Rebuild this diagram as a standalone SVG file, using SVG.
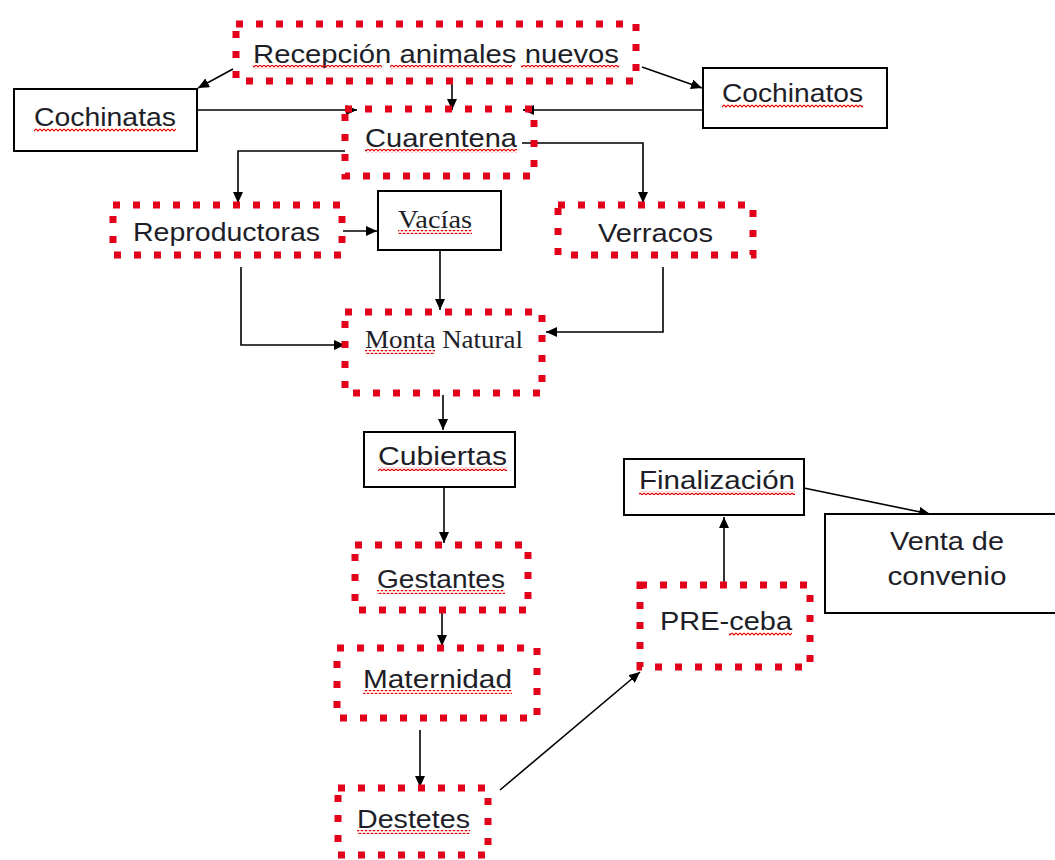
<svg xmlns="http://www.w3.org/2000/svg" width="1055" height="860" viewBox="0 0 1055 860">
<style>
.dot{fill:none;stroke:#e3001b;stroke-width:7;stroke-dasharray:7 13}
.box{fill:#fff;stroke:#000;stroke-width:2}
.t{font-family:"Liberation Sans",Arial,sans-serif;font-size:25px;fill:#1e1e28}
.s{font-family:"Liberation Serif","Times New Roman",serif;font-size:26px;fill:#1e1e28}
.c{fill:none;stroke:#000;stroke-width:1.6}
.w{fill:url(#wavy)}
</style>
<defs>
<marker id="ah" markerUnits="userSpaceOnUse" markerWidth="12" markerHeight="10" refX="11" refY="5" orient="auto">
<path d="M0,0 L11,5 L0,10 Z" fill="#000"/>
</marker>
<pattern id="wavy" patternUnits="userSpaceOnUse" width="4" height="4">
<path d="M0,1 L2,3 L4,1" fill="none" stroke="#e00000" stroke-width="1.1"/>
</pattern>
</defs>
<rect width="1055" height="860" fill="#fff"/>

<g id="connectors">
<path class="c" marker-end="url(#ah)" d="M233,69 L198,88"/>
<path class="c" marker-end="url(#ah)" d="M642,67 L702,88"/>
<path class="c" marker-end="url(#ah)" d="M452,82 L452,110"/>
<path class="c" marker-end="url(#ah)" d="M198,110 L357,110"/>
<path class="c" marker-end="url(#ah)" d="M703,110 L523,110"/>
<path class="c" marker-end="url(#ah)" d="M345,151 L238,151 L238,203"/>
<path class="c" marker-end="url(#ah)" d="M522,143 L643,143 L643,203"/>
<path class="c" marker-end="url(#ah)" d="M343,231 L377,231"/>
<path class="c" marker-end="url(#ah)" d="M440,250 L440,310"/>
<path class="c" marker-end="url(#ah)" d="M241,267 L241,345 L345,345"/>
<path class="c" marker-end="url(#ah)" d="M663,267 L663,332 L546,332"/>
<path class="c" marker-end="url(#ah)" d="M443,395 L443,430"/>
<path class="c" marker-end="url(#ah)" d="M444,488 L444,543"/>
<path class="c" marker-end="url(#ah)" d="M442,612 L442,646"/>
<path class="c" marker-end="url(#ah)" d="M420,730 L420,787"/>
<path class="c" marker-end="url(#ah)" d="M500,790 L640,672"/>
<path class="c" marker-end="url(#ah)" d="M724,585 L724,517"/>
<path class="c" marker-end="url(#ah)" d="M799,487 L930,514"/>
</g>

<g id="recepcion">
<rect class="dot" x="236" y="24" width="400" height="57"/>
<text class="t" x="253" y="63" textLength="366" lengthAdjust="spacingAndGlyphs">Recepción animales nuevos</text>
<rect class="w" x="253" y="65" width="129" height="4"/>
<rect class="w" x="390" y="65" width="122" height="4"/>
<rect class="w" x="521" y="65" width="98" height="4"/>
</g>

<g id="cochinatas">
<rect class="box" x="14" y="89" width="183" height="62"/>
<text class="t" x="34" y="126" textLength="142" lengthAdjust="spacingAndGlyphs">Cochinatas</text>
<rect class="w" x="34" y="128" width="142" height="4"/>
</g>

<g id="cochinatos">
<rect class="box" x="703" y="68" width="184" height="60"/>
<text class="t" x="722" y="102" textLength="141" lengthAdjust="spacingAndGlyphs">Cochinatos</text>
<rect class="w" x="722" y="104" width="141" height="4"/>
</g>

<g id="cuarentena">
<rect class="dot" x="345" y="109" width="189" height="67"/>
<text class="t" x="365" y="147" textLength="152" lengthAdjust="spacingAndGlyphs">Cuarentena</text>
<rect class="w" x="365" y="149" width="152" height="4"/>
</g>

<g id="reproductoras">
<rect class="dot" x="113" y="205" width="229" height="50"/>
<text class="t" x="133" y="241" textLength="187" lengthAdjust="spacingAndGlyphs">Reproductoras</text>
</g>

<g id="vacias">
<rect class="box" x="378" y="191" width="123" height="59"/>
<text class="s" x="398" y="228" font-size="27" textLength="74" lengthAdjust="spacingAndGlyphs">Vacías</text>
<rect class="w" x="398" y="230" width="74" height="4"/>
</g>

<g id="verracos">
<rect class="dot" x="558" y="205" width="195" height="50"/>
<text class="t" x="598" y="242" textLength="115" lengthAdjust="spacingAndGlyphs">Verracos</text>
</g>

<g id="monta">
<rect class="dot" x="345" y="312" width="197" height="81"/>
<text class="s" x="365" y="348" font-size="25" textLength="158" lengthAdjust="spacingAndGlyphs">Monta Natural</text>
<rect class="w" x="365" y="350" width="70" height="4"/>
</g>

<g id="cubiertas">
<rect class="box" x="364" y="432" width="151" height="55"/>
<text class="t" x="378" y="465" textLength="129" lengthAdjust="spacingAndGlyphs">Cubiertas</text>
<rect class="w" x="378" y="467" width="129" height="4"/>
</g>

<g id="gestantes">
<rect class="dot" x="355" y="545" width="173" height="65"/>
<text class="t" x="377" y="588" textLength="128" lengthAdjust="spacingAndGlyphs">Gestantes</text>
<rect class="w" x="377" y="590" width="128" height="4"/>
</g>

<g id="maternidad">
<rect class="dot" x="337" y="648" width="200" height="70"/>
<text class="t" x="363" y="688" textLength="149" lengthAdjust="spacingAndGlyphs">Maternidad</text>
<rect class="w" x="363" y="690" width="149" height="4"/>
</g>

<g id="destetes">
<rect class="dot" x="338" y="788" width="150" height="67"/>
<text class="t" x="357" y="828" textLength="113" lengthAdjust="spacingAndGlyphs">Destetes</text>
<rect class="w" x="357" y="830" width="113" height="4"/>
</g>

<g id="preceba">
<rect class="dot" x="640" y="585" width="170" height="82"/>
<text class="t" x="660" y="630" textLength="132" lengthAdjust="spacingAndGlyphs">PRE-ceba</text>
<rect class="w" x="729" y="632" width="63" height="4"/>
</g>

<g id="finalizacion">
<rect class="box" x="624" y="459" width="180" height="56"/>
<text class="t" x="639" y="489" textLength="156" lengthAdjust="spacingAndGlyphs">Finalización</text>
<rect class="w" x="639" y="491" width="156" height="4"/>
</g>

<g id="venta">
<rect class="box" x="825" y="514" width="240" height="99"/>
<text class="t" x="947" y="550" text-anchor="middle" textLength="114" lengthAdjust="spacingAndGlyphs">Venta de</text>
<text class="t" x="947" y="585" text-anchor="middle" textLength="119" lengthAdjust="spacingAndGlyphs">convenio</text>
</g>
</svg>
